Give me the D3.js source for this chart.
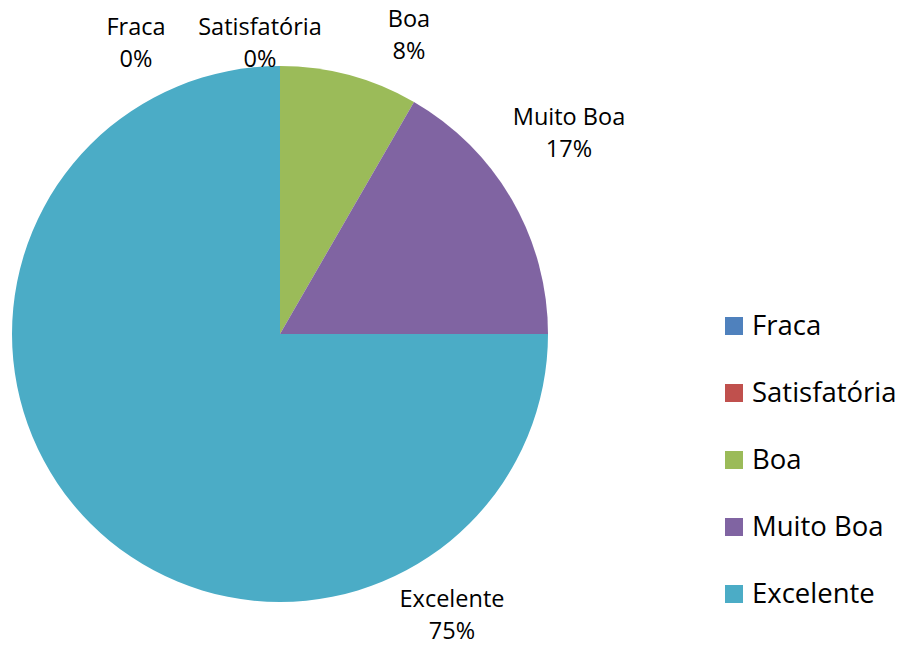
<!DOCTYPE html>
<html>
<head>
<meta charset="utf-8">
<script src="https://cdn.jsdelivr.net/npm/d3@7"></script>
<style>
  body { margin: 0; background: #fff; }
  svg text { font-family: "Open Sans", sans-serif; fill: #000; }
</style>
</head>
<body>
<div id="chart"></div>
<script>
// chart data
const categories = ["Fraca", "Satisfatória", "Boa", "Muito Boa", "Excelente"];
const counts = [0, 0, 1, 2, 9];
const colors = ["#4F81BD", "#C0504D", "#9BBB59", "#8064A2", "#4BACC6"];

// label anchor offsets (from pie centre, px), tuned to Excel's "best fit"
const labelOffsets = [[-144, -299], [-20, -299], [129, -307], [289, -209], [172, 273]];

const width = 903, height = 646;
const cx = 280, cy = 334, radius = 268;

const svg = d3.select("#chart")
    .append("svg")
    .attr("width", width)
    .attr("height", height);

const g = svg.append("g")
    .attr("transform", `translate(${cx},${cy})`);

const total = d3.sum(counts);
const data = categories.map((c, i) => ({ name: c, value: counts[i], color: colors[i], off: labelOffsets[i] }));

const pie = d3.pie().sort(null).value(d => d.value);
const arc = d3.arc().innerRadius(0).outerRadius(radius);

g.selectAll(".slice")
    .data(pie(data))
    .enter().append("path")
    .attr("class", "slice")
    .attr("d", arc)
    .style("fill", d => d.data.color);

// data labels: category + percentage
const labels = g.selectAll(".lbl")
    .data(data)
    .enter().append("text")
    .attr("class", "lbl")
    .attr("text-anchor", "middle")
    .attr("font-size", "23.5px")
    .attr("x", d => d.off[0])
    .attr("y", d => d.off[1]);

labels.append("tspan")
    .attr("x", d => d.off[0])
    .text(d => d.name);
labels.append("tspan")
    .attr("x", d => d.off[0])
    .attr("dy", 32)
    .text(d => d3.format(".0%")(d.value / total));

// legend
const legendY = d3.scalePoint()
    .domain(categories)
    .range([326, 594]);

const legend = svg.append("g").attr("class", "legend");

legend.selectAll("rect")
    .data(data)
    .enter().append("rect")
    .attr("x", 725)
    .attr("y", d => legendY(d.name) - 9)
    .attr("width", 18)
    .attr("height", 18)
    .style("fill", d => d.color);

legend.selectAll("text")
    .data(data)
    .enter().append("text")
    .attr("x", 752)
    .attr("y", d => legendY(d.name))
    .attr("dy", "0.34em")
    .attr("font-size", "27.5px")
    .text(d => d.name);
</script>
</body>
</html>
